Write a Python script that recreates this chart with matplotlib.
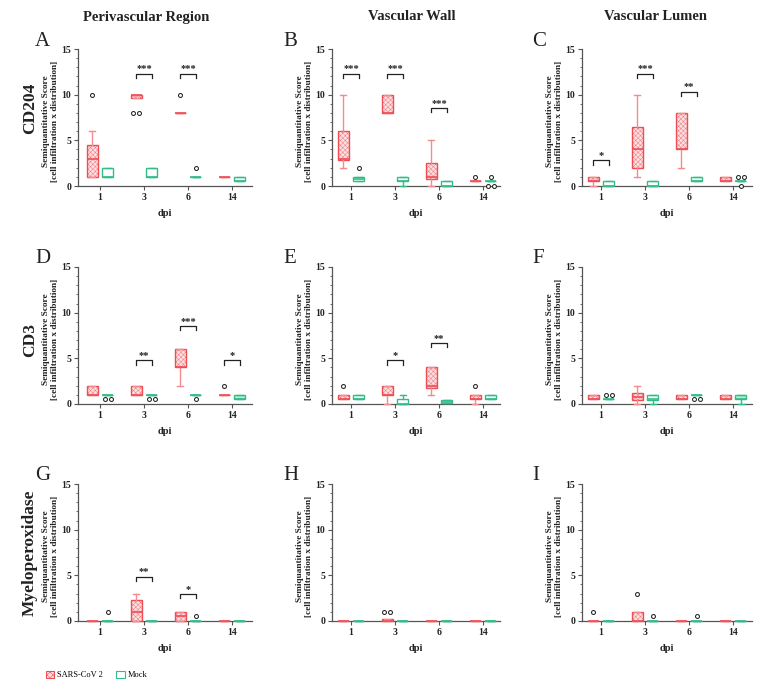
import matplotlib
matplotlib.use('Agg')
import matplotlib.pyplot as plt
from matplotlib.patches import Patch, PathPatch
from matplotlib.ticker import MultipleLocator
import numpy as np

plt.rcParams['font.family'] = ['Liberation Serif', 'DejaVu Serif']
plt.rcParams['hatch.linewidth'] = 0.35

# ---------------- data ----------------
dpi_labels = ['1', '3', '6', '14']
col_titles = ['Perivascular Region', 'Vascular Wall', 'Vascular Lumen']
row_titles = ['CD204', 'CD3', 'Myeloperoxidase']
panel_letters = ['A', 'B', 'C', 'D', 'E', 'F', 'G', 'H', 'I']
series_names = ['SARS-CoV 2', 'Mock']
y_label = 'Semiquantitative Score\n[cell infiltration x distribution]'
x_label = 'dpi'

# box statistics per dpi: [whisker low, q1, median, q3, whisker high]
A_sars = [[1, 1, 3, 4.5, 6], [9.6, 9.6, 10, 10, 10], [8, 8, 8, 8, 8], [1, 1, 1, 1, 1]]
A_mock = [[1, 1, 1, 2, 2], [1, 1, 1, 2, 2], [1, 1, 1, 1, 1], [0.5, 0.5, 0.5, 1, 1]]
A_sars_out = [[10], [8, 8], [10], []]
A_mock_out = [[], [], [2], []]
A_sig = ['', '***', '***', '']
A_sig_y = [0, 12.3, 12.3, 0]

B_sars = [[2, 2.8, 3, 6, 10], [8, 8, 8, 10, 10], [0, 0.8, 1, 2.5, 5], [0.5, 0.5, 0.5, 0.5, 0.5]]
B_mock = [[0.5, 0.5, 0.75, 1, 1], [0, 0.5, 0.5, 1, 1], [0, 0, 0, 0.5, 0.5], [0.5, 0.5, 0.5, 0.5, 0.5]]
B_sars_out = [[], [], [], [1]]
B_mock_out = [[2], [], [], [1, 0, 0]]
B_sig = ['***', '***', '***', '']
B_sig_y = [12.3, 12.3, 8.5, 0]

C_sars = [[0, 0.5, 0.5, 1, 1], [1, 2, 4, 6.5, 10], [2, 4, 4, 8, 8], [0.5, 0.5, 0.5, 1, 1]]
C_mock = [[0, 0, 0, 0.5, 0.5], [0, 0, 0, 0.5, 0.5], [0.5, 0.5, 0.5, 1, 1], [0.5, 0.5, 0.5, 0.5, 0.5]]
C_sars_out = [[], [], [], []]
C_mock_out = [[], [], [], [1, 1, 0]]
C_sig = ['*', '***', '**', '']
C_sig_y = [2.8, 12.3, 10.3, 0]

D_sars = [[1, 1, 1, 2, 2], [1, 1, 1, 2, 2], [2, 4, 4, 6, 6], [1, 1, 1, 1, 1]]
D_mock = [[1, 1, 1, 1, 1], [1, 1, 1, 1, 1], [1, 1, 1, 1, 1], [0.5, 0.5, 0.5, 1, 1]]
D_sars_out = [[], [], [], [2]]
D_mock_out = [[0.5, 0.5], [0.5, 0.5], [0.5], []]
D_sig = ['', '**', '***', '*']
D_sig_y = [0, 4.77, 8.5, 4.77]

E_sars = [[0.5, 0.5, 0.5, 1, 1], [0, 1, 1, 2, 2], [1, 1.8, 2, 4, 4], [0, 0.5, 0.5, 1, 1]]
E_mock = [[0.5, 0.5, 0.5, 1, 1], [0, 0, 0, 0.5, 1], [0.1, 0.1, 0.25, 0.4, 0.4], [0.5, 0.5, 0.5, 1, 1]]
E_sars_out = [[2], [], [], [2]]
E_mock_out = [[], [], [], []]
E_sig = ['', '*', '**', '']
E_sig_y = [0, 4.77, 6.64, 0]

F_sars = [[0.5, 0.5, 0.5, 1, 1], [0, 0.4, 0.8, 1.2, 2], [0.5, 0.5, 0.5, 1, 1], [0.5, 0.5, 0.5, 1, 1]]
F_mock = [[0.5, 0.5, 0.5, 0.5, 0.5], [0, 0.4, 0.5, 1, 1], [1, 1, 1, 1, 1], [0, 0.5, 0.5, 1, 1]]
F_sars_out = [[], [], [], []]
F_mock_out = [[1, 1], [], [0.5, 0.5], []]
F_sig = ['', '', '', '']
F_sig_y = [0, 0, 0, 0]

G_sars = [[0, 0, 0, 0, 0], [0, 0, 1, 2.25, 3], [0, 0, 0.5, 1, 1], [0, 0, 0, 0, 0]]
G_mock = [[0, 0, 0, 0, 0], [0, 0, 0, 0, 0], [0, 0, 0, 0, 0], [0, 0, 0, 0, 0]]
G_sars_out = [[], [], [], []]
G_mock_out = [[1], [], [0.5], []]
G_sig = ['', '**', '*', '']
G_sig_y = [0, 4.87, 2.93, 0]

H_sars = [[0, 0, 0, 0, 0], [0, 0, 0, 0.2, 0.2], [0, 0, 0, 0, 0], [0, 0, 0, 0, 0]]
H_mock = [[0, 0, 0, 0, 0], [0, 0, 0, 0, 0], [0, 0, 0, 0, 0], [0, 0, 0, 0, 0]]
H_sars_out = [[], [1, 1], [], []]
H_mock_out = [[], [], [], []]
H_sig = ['', '', '', '']
H_sig_y = [0, 0, 0, 0]

I_sars = [[0, 0, 0, 0, 0], [0, 0, 0, 1, 1], [0, 0, 0, 0, 0], [0, 0, 0, 0, 0]]
I_mock = [[0, 0, 0, 0, 0], [0, 0, 0, 0, 0], [0, 0, 0, 0, 0], [0, 0, 0, 0, 0]]
I_sars_out = [[1], [3], [], []]
I_mock_out = [[], [0.5], [0.5], []]
I_sig = ['', '', '', '']
I_sig_y = [0, 0, 0, 0]

panels = [
    (A_sars, A_mock, A_sars_out, A_mock_out, A_sig, A_sig_y),
    (B_sars, B_mock, B_sars_out, B_mock_out, B_sig, B_sig_y),
    (C_sars, C_mock, C_sars_out, C_mock_out, C_sig, C_sig_y),
    (D_sars, D_mock, D_sars_out, D_mock_out, D_sig, D_sig_y),
    (E_sars, E_mock, E_sars_out, E_mock_out, E_sig, E_sig_y),
    (F_sars, F_mock, F_sars_out, F_mock_out, F_sig, F_sig_y),
    (G_sars, G_mock, G_sars_out, G_mock_out, G_sig, G_sig_y),
    (H_sars, H_mock, H_sars_out, H_mock_out, H_sig, H_sig_y),
    (I_sars, I_mock, I_sars_out, I_mock_out, I_sig, I_sig_y),
]
mock_filled = {(3, 3), (5, 3)}   # (panel index, dpi index) with light green fill

# ---------------- style ----------------
RED = '#EE4D55'
RED_WH = '#F28C90'
RED_FILL = '#FCE0E1'
RED_HATCH = '#F07C82'
GREEN = '#33BC88'
GREEN_FILL = '#BDEBD7'
SPINE = '#555555'
TXT = '#222222'

W, H = 769, 689
fig = plt.figure(figsize=(W / 100, H / 100), dpi=100)

col_left = [78, 332, 582]
col_right = [252, 500, 752]
col_tick1 = [100, 351, 601]
row_top = [49, 267, 484]
row_bot = [186, 404, 621]
step = 44.0
letter_x = [35, 283, 532]


def add_fliers(ax, positions, outs):
    for p, vals in zip(positions, outs):
        vals = list(vals)
        uniq = []
        for v in vals:
            if v not in uniq:
                uniq.append(v)
        for v in uniq:
            n = vals.count(v)
            offs = (np.arange(n) - (n - 1) / 2) * 0.14
            ax.scatter(p + offs, [v] * n, s=8, marker='o', facecolors='white',
                       edgecolors=TXT, linewidths=0.75, zorder=5, clip_on=False)


def draw_series(ax, stats, positions, edge, wcolor, face, hatch, filled_idx=()):
    st = [dict(whislo=s[0], q1=s[1], med=s[2], q3=s[3], whishi=s[4], fliers=[]) for s in stats]
    bp = ax.bxp(st, positions=positions, widths=0.25, patch_artist=True,
                showfliers=False, capwidths=0.12, manage_ticks=False,
                boxprops=dict(edgecolor=edge, linewidth=1.0),
                whiskerprops=dict(color=wcolor, linewidth=1.0),
                capprops=dict(color=wcolor, linewidth=1.0),
                medianprops=dict(color=edge, linewidth=1.2))
    for i, b in enumerate(bp['boxes']):
        if hatch:
            under = PathPatch(b.get_path(), facecolor=face, edgecolor=RED_HATCH,
                              linewidth=0, hatch=hatch, zorder=2.9, clip_on=False)
            ax.add_patch(under)
            b.set_facecolor('none')
        elif i in filled_idx:
            b.set_facecolor(GREEN_FILL)
        else:
            b.set_facecolor(face)
        b.set_zorder(3)
        b.set_clip_on(False)
    for key in ('whiskers', 'caps', 'medians'):
        for a in bp[key]:
            a.set_clip_on(False)
            a.set_zorder(3.5)
    return bp


for k, (sars, mock, sars_out, mock_out, sig, sig_y) in enumerate(panels):
    r, c = divmod(k, 3)
    left = col_left[c]
    width = col_right[c] - col_left[c]
    ax = fig.add_axes([left / W, 1 - row_bot[r] / H, width / W, (row_bot[r] - row_top[r]) / H])
    x = np.arange(len(dpi_labels))
    ax.set_xlim((col_left[c] - col_tick1[c]) / step, (col_right[c] - col_tick1[c]) / step)
    ax.set_ylim(0, 15)

    filled = [i for i in range(4) if (k, i) in mock_filled]
    draw_series(ax, sars, x - 0.18, RED, RED_WH, RED_FILL, 'xxxxxxx')
    draw_series(ax, mock, x + 0.18, GREEN, GREEN, 'white', None, filled)
    add_fliers(ax, x - 0.18, sars_out)
    add_fliers(ax, x + 0.18, mock_out)

    for i, (lab, h) in enumerate(zip(sig, sig_y)):
        if lab:
            x0, x1 = i - 0.18, i + 0.18
            ax.plot([x0, x0, x1, x1], [h - 0.45, h, h, h - 0.45], color=TXT,
                    lw=0.9, clip_on=False, zorder=4)
            ax.text(i, h + 0.05, lab, ha='center', va='bottom', fontsize=7.5,
                    fontweight='bold', color=TXT)

    for s in ('top', 'right'):
        ax.spines[s].set_visible(False)
    for s in ('left', 'bottom'):
        ax.spines[s].set_color(SPINE)
        ax.spines[s].set_linewidth(0.9)
    ax.set_xticks(x)
    ax.set_xticklabels(dpi_labels)
    ax.set_yticks([0, 5, 10, 15])
    ax.yaxis.set_minor_locator(MultipleLocator(1))
    ax.tick_params(axis='both', which='major', length=3, width=0.8, color=SPINE,
                   labelsize=7, pad=2)
    ax.tick_params(axis='y', which='minor', length=1.6, width=0.6, color=SPINE)
    for t in ax.get_xticklabels() + ax.get_yticklabels():
        t.set_fontweight('bold')
        t.set_color(TXT)
    ax.set_xlabel(x_label, fontsize=7.5, fontweight='bold', labelpad=5, color=TXT)
    ax.set_ylabel(y_label, fontsize=6.7, fontweight='bold', linespacing=1.1, color=TXT)
    ax.yaxis.set_label_coords(-19 / width, 0.47)

    fig.text(letter_x[c] / W, 1 - (row_top[r] - 8) / H, panel_letters[k], fontsize=15,
             ha='left', va='center', color=TXT)

# column titles
for c, t in enumerate(col_titles):
    cx = [146, 412, 656][c]
    fig.text(cx / W, 1 - 17 / H, t, fontsize=10.5, fontweight='bold',
             ha='center', va='center', color=TXT)

# row titles
for r, t in enumerate(row_titles):
    cy = [108, 340, 553][r]
    fig.text(30 / W, 1 - cy / H, t, fontsize=12.5, fontweight='bold', rotation=90,
             ha='center', va='center', color=TXT)

handles = [Patch(facecolor=RED_FILL, edgecolor=RED, hatch='xxxxxx', linewidth=0.8),
           Patch(facecolor='white', edgecolor=GREEN, linewidth=0.8)]
fig.legend(handles, series_names, loc='center left',
           bbox_to_anchor=(38 / W, 1 - 675 / H), ncol=2, frameon=False,
           fontsize=6, handlelength=1.0, handleheight=1.0, columnspacing=1.6,
           handletextpad=0.4)

fig.savefig('out.png', dpi=100)
